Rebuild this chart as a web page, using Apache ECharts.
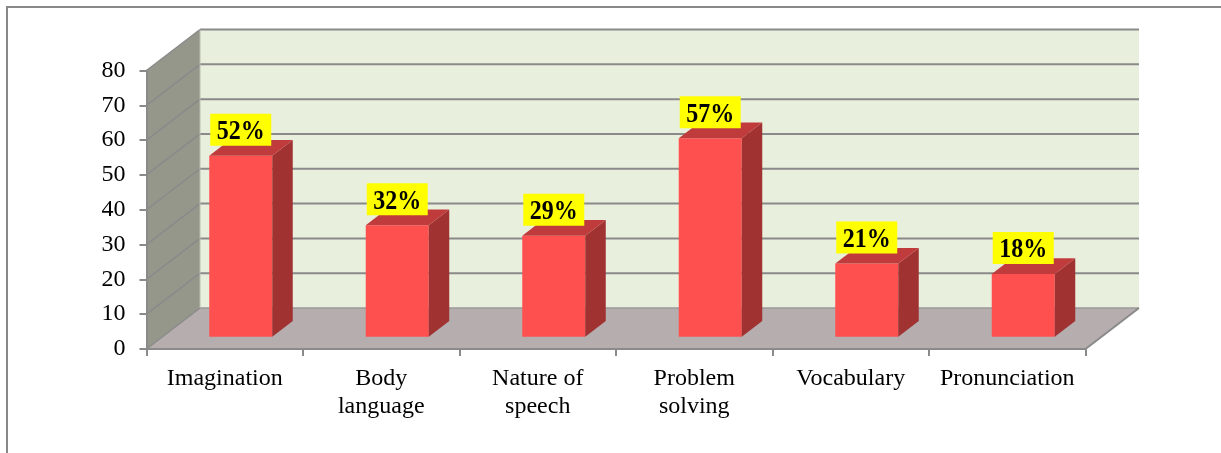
<!DOCTYPE html>
<html><head><meta charset="utf-8">
<style>html,body{margin:0;padding:0;background:#fff}#c{width:1221px;height:453px}</style>
<script src="https://cdn.jsdelivr.net/npm/echarts@6/dist/echarts.min.js"></script>
</head><body><div id="c"></div>
<script>
const categories = ['Imagination','Body\nlanguage','Nature of\nspeech','Problem\nsolving','Vocabulary','Pronunciation'];
const values = [52,32,29,57,21,18];
const percentLabels = ['52%','32%','29%','57%','21%','18%'];
const yTicks = [0,10,20,30,40,50,60,70,80];

const FONT = '"Liberation Serif","Times New Roman",serif';
const GRAY = '#8a8a8a';
const DEPTH_X = 53.5, DEPTH_Y = 41;      // wall depth
const BAR_IN_X = 16, BAR_IN_Y = 12.3;  // bar front plane inset
const BAR_DX = 20.5, BAR_DY = 15.7;    // bar depth
const BAR_RATIO = 0.4026;

const chart = echarts.init(document.getElementById('c'), null, {renderer:'canvas'});

function poly(points, fill){
  return {type:'polygon', shape:{points}, style:{fill, stroke:null}};
}
function seg(x1,y1,x2,y2,stroke,lineWidth){
  return {type:'line', shape:{x1,y1,x2,y2}, style:{stroke, lineWidth, fill:null}};
}

function renderWalls(params, api){
  const cs = params.coordSys;
  const L = cs.x, R = cs.x + cs.width, B = cs.y + cs.height, T = cs.y;
  const dx = DEPTH_X, dy = DEPTH_Y;
  const children = [
    poly([[L+dx,T-dy],[R+dx,T-dy],[R+dx,B-dy],[L+dx,B-dy]], '#e9efdd'),
    poly([[L,B],[L+dx,B-dy],[L+dx,T-dy],[L,T]], '#95978a'),
    poly([[L,B],[R,B],[R+dx,B-dy],[L+dx,B-dy]], '#b6adae')
  ];
  yTicks.forEach(v=>{
    const y = api.coord([0,v])[1];
    if(v>0) children.push(seg(L+dx,y-dy,R+dx,y-dy,GRAY,2));
    else children.push(seg(L+dx,y-dy,R+dx,y-dy,'#9a9a9a',1.5));
    children.push(seg(L,y,L+dx,y-dy,GRAY,1.5));
  });
  children.push(seg(L+dx,T-dy,L+dx,B-dy,'#b9bdb0',1));
  children.push(seg(R,B,R+dx,B-dy,GRAY,2));
  return {type:'group', children};
}

function renderBar(params, api){
  const i = api.value(0), v = api.value(1);
  const base = api.coord([i,0]);
  const top = api.coord([i,v]);
  const w = api.size([1,0])[0]*BAR_RATIO;
  const x0 = base[0]+BAR_IN_X-w/2, x1 = x0+w;
  const yb = base[1]-BAR_IN_Y, yt = top[1]-BAR_IN_Y;
  const cx = (x0+x1)/2;
  const boxW = 61, boxH = 32, gap = 10;
  return {type:'group', children:[
    poly([[x0,yb],[x1,yb],[x1,yt],[x0,yt]], '#ff5050'),
    poly([[x1,yb],[x1+BAR_DX,yb-BAR_DY],[x1+BAR_DX,yt-BAR_DY],[x1,yt]], '#a03232'),
    poly([[x0,yt],[x1,yt],[x1+BAR_DX,yt-BAR_DY],[x0+BAR_DX,yt-BAR_DY]], '#c03c3c'),
    {type:'rect', shape:{x:cx-boxW/2,y:yt-gap-boxH,width:boxW,height:boxH}, style:{fill:'#ffff00'}},
    {type:'text', x:cx, y:yt-gap-boxH/2+2.5, scaleY:1.1, style:{text:percentLabels[params.dataIndex], fill:'#000', font:'bold 24px '+FONT, align:'center', verticalAlign:'middle'}}
  ]};
}

chart.setOption({
  animation:false,
  backgroundColor:'#fff',
  grid:{left:146.5, right:135.5, top:70.5, bottom:104, containLabel:false},
  graphic:[{type:'rect', z:0, shape:{x:7,y:7,width:1300,height:520}, style:{fill:'none',stroke:'#888',lineWidth:2}}],
  xAxis:{type:'category', data:categories, z:5,
    axisLine:{lineStyle:{color:GRAY,width:2}},
    axisTick:{show:true,alignWithLabel:false,length:7,lineStyle:{color:GRAY,width:2}},
    axisLabel:{interval:0,color:'#000',fontFamily:FONT,fontSize:24,lineHeight:27.5,margin:16}
  },
  yAxis:{type:'value', min:0, max:80, interval:10, z:5,
    axisLine:{show:true,lineStyle:{color:GRAY,width:2}},
    axisTick:{show:true,length:7,lineStyle:{color:GRAY,width:2}},
    splitLine:{show:false},
    axisLabel:{color:'#000',fontFamily:FONT,fontSize:24,margin:21,padding:[2,0,0,0]}
  },
  series:[
    {type:'custom', z:1, silent:true, clip:false, renderItem:renderWalls, data:[[0,0]], encode:{x:0,y:1}},
    {type:'custom', z:2, silent:true, clip:false, renderItem:renderBar, data:values.map((v,i)=>[i,v]), encode:{x:0,y:1}}
  ]
});
</script></body></html>
